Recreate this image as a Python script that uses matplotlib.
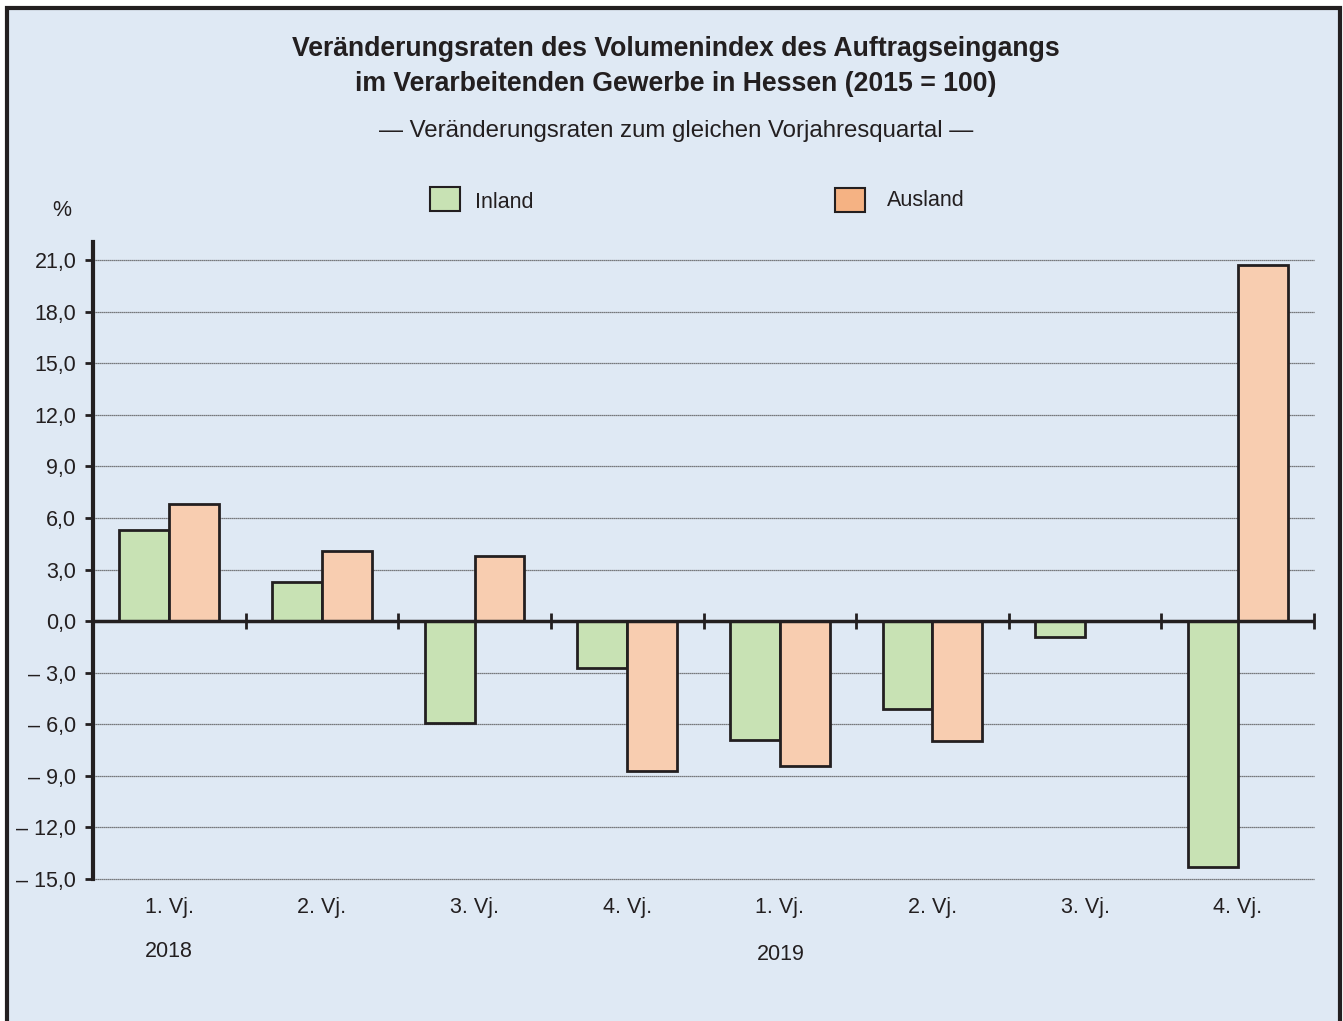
import numpy as np
import matplotlib
matplotlib.use("Agg")
import matplotlib.pyplot as plt
from matplotlib.patches import Rectangle

plt.rcParams['font.family'] = ['Liberation Sans', 'DejaVu Sans']

# data
quarters = ["1. Vj.", "2. Vj.", "3. Vj.", "4. Vj.", "1. Vj.", "2. Vj.", "3. Vj.", "4. Vj."]
years = ["2018", "2019"]
inland = [5.3, 2.3, -5.9, -2.7, -6.9, -5.1, -0.9, -14.3]
ausland = [6.8, 4.1, 3.8, -8.7, -8.4, -7.0, np.nan, 20.7]
yticks = [-15, -12, -9, -6, -3, 0, 3, 6, 9, 12, 15, 18, 21]

bg = "#dfe9f4"
green = "#c8e2b4"
orange = "#f8cdb0"
orange_leg = "#f5b283"
ink = "#231f20"
fs = 15.5

fig = plt.figure(figsize=(13.43, 10.21), dpi=100)
fig.patch.set_facecolor("white")

# framed background
W, H = 1343, 1021
frame = Rectangle((7 / W, -0.02), 1333 / W, 1.02 - 8 / H, transform=fig.transFigure,
                  facecolor=bg, edgecolor=ink, linewidth=3, zorder=-10)
fig.patches.append(frame)

ax = fig.add_axes([93 / W, 1 - 879 / H, (1314 - 93) / W, (879 - 242) / H])
ax.set_facecolor("none")

x = np.arange(len(quarters))
bw = 0.327
ax.bar(x - bw / 2, inland, bw, color=green, edgecolor=ink, linewidth=2, zorder=3)
ax.bar(x + bw / 2, ausland, bw, color=orange, edgecolor=ink, linewidth=2, zorder=3)

ax.set_xlim(-0.5, len(quarters) - 0.5)
ax.set_ylim(-15, 22.05)

# grid
for v in yticks:
    if v != 0:
        ax.axhline(v, color="#555555", linewidth=0.9, linestyle=(0, (1, 0.6)), zorder=1,
                   clip_on=False)

# zero line with category separators
ax.axhline(0, color=ink, linewidth=2.5, zorder=4)
bounds = np.arange(0.5, len(quarters), 1.0)
ax.plot(bounds, np.zeros_like(bounds), linestyle="none", marker="|", markersize=11,
        markeredgewidth=2, color=ink, zorder=4, clip_on=False)

for s in ["top", "right", "bottom"]:
    ax.spines[s].set_visible(False)
ax.spines["left"].set_linewidth(3)
ax.spines["left"].set_color(ink)

ax.set_yticks(yticks)
ax.set_yticklabels([f"{v:.1f}".replace(".", ",").replace("-", "– ") for v in yticks], fontsize=fs,
                   color=ink)
ax.tick_params(axis="y", direction="out", length=6, width=2, color=ink, pad=6)

ax.set_xticks(x)
ax.set_xticklabels(quarters, fontsize=fs, color=ink)
ax.tick_params(axis="x", length=0, pad=13)

ax.annotate(years[0], xy=(0, 0), xycoords=("data", "axes fraction"), xytext=(0, -52.5),
            textcoords="offset points", ha="center", va="center", fontsize=fs, color=ink)
ax.annotate(years[1], xy=(4, 0), xycoords=("data", "axes fraction"), xytext=(1, -54.5),
            textcoords="offset points", ha="center", va="center", fontsize=fs, color=ink)

# titles
fig.text(676 / W, 1 - 49 / H, "Veränderungsraten des Volumenindex des Auftragseingangs",
         ha="center", va="center", fontsize=19.2, fontweight="bold", color=ink)
fig.text(676 / W, 1 - 84 / H, "im Verarbeitenden Gewerbe in Hessen (2015 = 100)",
         ha="center", va="center", fontsize=19.2, fontweight="bold", color=ink)
fig.text(676 / W, 1 - 131 / H, "— Veränderungsraten zum gleichen Vorjahresquartal —",
         ha="center", va="center", fontsize=17.3, color=ink)

fig.text(62 / W, 1 - 210 / H, "%", ha="center", va="center", fontsize=fs, color=ink)

# legend
fig.patches.append(Rectangle((430 / W, 1 - 211 / H), 30 / W, 24 / H, transform=fig.transFigure,
                             facecolor=green, edgecolor=ink, linewidth=1.5, zorder=5))
fig.text(475 / W, 1 - 202 / H, "Inland", ha="left", va="center", fontsize=fs, color=ink)
fig.patches.append(Rectangle((835 / W, 1 - 212 / H), 30 / W, 24 / H, transform=fig.transFigure,
                             facecolor=orange_leg, edgecolor=ink, linewidth=1.5, zorder=5))
fig.text(887 / W, 1 - 200 / H, "Ausland", ha="left", va="center", fontsize=fs, color=ink)

fig.savefig("out.png", dpi=100, facecolor=fig.get_facecolor())
